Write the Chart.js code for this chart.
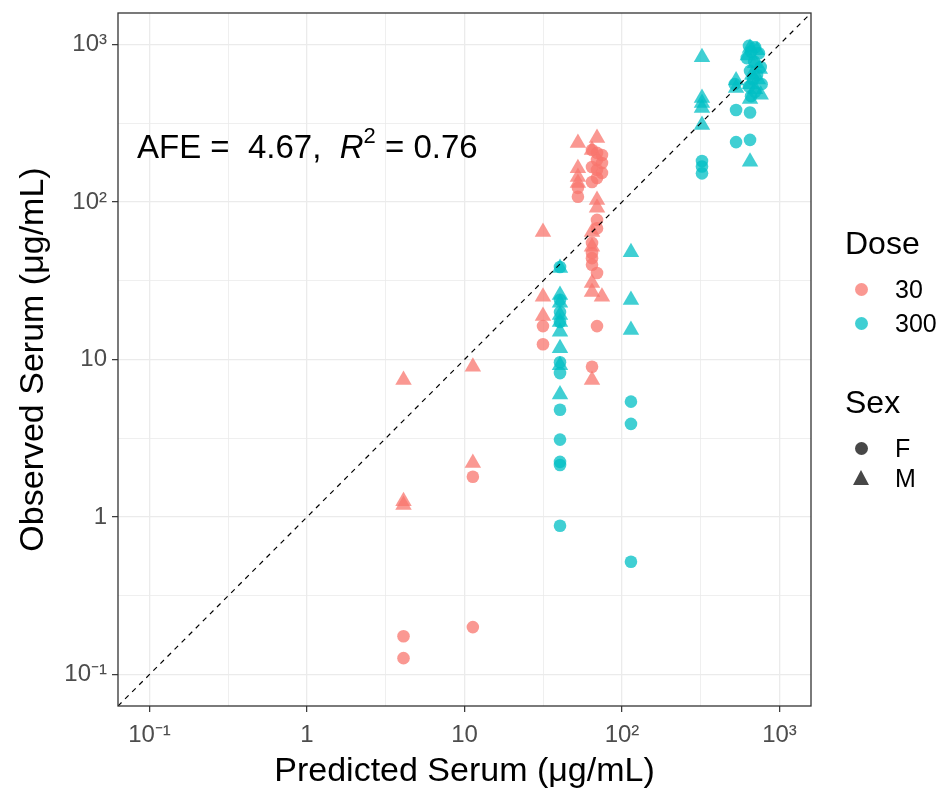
<!DOCTYPE html>
<html>
<head>
<meta charset="utf-8">
<script src="https://cdn.jsdelivr.net/npm/chart.js@4/dist/chart.umd.min.js"></script>
<style>
  body { margin: 0; background: #fff; font-family: "Liberation Sans", Arial, sans-serif; }
  #wrap { position: relative; width: 947px; height: 796px; }
  #afe { position: absolute; left: 137px; top: 130px; font-size: 33px; line-height: 33px; white-space: pre; color: #000; }
  #afe sup { font-size: 22px; position: relative; top: -3px; vertical-align: super; line-height: 0; }
  .lg { position: absolute; color: #000; white-space: nowrap; }
  .lg-title { font-size: 32px; line-height: 32px; left: 845px; }
  .lg-label { font-size: 25px; line-height: 26px; left: 895px; }
  .dot { position: absolute; width: 13px; height: 13px; border-radius: 50%; left: 855px; }
  .tri { position: absolute; width: 0; height: 0; left: 853px; border-left: 8.5px solid transparent; border-right: 8.5px solid transparent; border-bottom: 15px solid rgba(0,0,0,0.72); }
</style>
</head>
<body>
<div id="wrap">
  <canvas id="chart"></canvas>
  <div id="afe">AFE =  4.67,  <i>R</i><sup>2</sup> = 0.76</div>
  <div class="lg lg-title" style="top:227px">Dose</div>
  <div class="dot" style="top:283px;background:rgba(248,118,109,0.75)"></div>
  <div class="lg lg-label" style="top:276px">30</div>
  <div class="dot" style="top:317px;background:rgba(0,191,196,0.75)"></div>
  <div class="lg lg-label" style="top:310px">300</div>
  <div class="lg lg-title" style="top:386px">Sex</div>
  <div class="dot" style="top:442px;background:rgba(0,0,0,0.72)"></div>
  <div class="lg lg-label" style="top:435px">F</div>
  <div class="tri" style="top:470px"></div>
  <div class="lg lg-label" style="top:465px">M</div>
</div>
<script>
// axis range (log10 -1.2 .. 3.2) and ticks
const axisMin = 0.0631;
const axisMax = 1585;
const majorTicks = [0.1, 1, 10, 100, 1000];
const minorTicks = [0.316, 3.16, 31.6, 316];
const tickLabels = ["10\u207B\u00B9", "1", "10", "10\u00B2", "10\u00B3"];

// Dose 30, female
const d30F_pred = [4.1, 4.1, 11.3, 11.3, 31.5, 31.5, 52.5, 52.5, 64.5, 69.4, 74.6, 69.4, 74.6, 64.5, 69.4, 74.6, 69.4, 64.5, 69.4, 69.4, 64.5, 64.5, 64.5, 64.5, 69.4, 69.4, 64.5];
const d30F_obs  = [0.175, 0.127, 1.8, 0.2, 16.3, 12.5, 123, 108, 214, 205, 199, 185, 177, 167, 160, 153, 142, 134, 77, 68, 55, 47.5, 44, 40, 35.4, 16.3, 9.0];

// Dose 30, male
const d30M_pred = [4.1, 4.1, 4.1, 11.3, 11.3, 31.5, 31.5, 31.5, 52.5, 52.5, 52.5, 52.5, 69.4, 64.5, 69.4, 69.4, 64.5, 64.5, 64.5, 64.5, 74.6, 64.5];
const d30M_obs  = [7.4, 1.26, 1.19, 9.0, 2.2, 64.5, 25, 18.9, 237, 164, 144, 132, 255, 214, 103, 92, 64.5, 52, 30.6, 26.8, 25, 7.4];

// Dose 300, female
const d300F_pred = [40.4, 40.4, 40.4, 40.4, 40.4, 40.4, 40.4, 40.4, 40.4, 40.4, 40.4, 114, 114, 114, 322, 322, 322, 530, 530, 650, 650,
  640, 700, 660, 740, 620, 690, 760, 650, 720, 680, 770, 640, 700, 660, 520];
const d300F_obs  = [38.7, 23.9, 20, 17.3, 9.6, 8.2, 4.8, 3.1, 2.24, 2.14, 0.88, 5.4, 3.9, 0.52, 182, 168, 152, 384, 240, 370, 248,
  980, 960, 900, 880, 820, 780, 720, 680, 640, 600, 560, 540, 500, 470, 560];

// Dose 300, male
const d300M_pred = [40.4, 40.4, 40.4, 40.4, 40.4, 40.4, 40.4, 40.4, 40.4, 114, 114, 114, 322, 322, 322, 322, 322, 530, 530,
  650, 720, 630, 700, 750, 670, 730, 650, 700, 760, 650, 650];
const d300M_obs  = [38.1, 25.7, 22.9, 19.2, 17.3, 15, 11.8, 9.2, 6.0, 48, 23.9, 15.4, 830, 457, 425, 395, 308, 590, 530,
  950, 920, 850, 760, 700, 640, 600, 560, 520, 480, 450, 180];

const pink = "rgba(248,118,109,0.75)";
const cyan = "rgba(0,191,196,0.75)";

const toPoints = (xs, ys) => xs.map((x, i) => ({ x, y: ys[i] }));
const isMajor = (v) => majorTicks.some((m) => Math.abs(Math.log10(v) - Math.log10(m)) < 1e-6);
const labelFor = (v) => {
  const i = majorTicks.findIndex((m) => Math.abs(Math.log10(v) - Math.log10(m)) < 1e-6);
  return i >= 0 ? tickLabels[i] : "";
};

const panelBorder = {
  id: "panelBorder",
  afterDraw(chart) {
    const { ctx, chartArea: a } = chart;
    ctx.save();
    ctx.strokeStyle = "#333333";
    ctx.lineWidth = 1.3;
    ctx.strokeRect(a.left, a.top, a.right - a.left, a.bottom - a.top);
    ctx.restore();
  },
};

const axisCommon = (titleText, titlePad, labelPad) => ({
  type: "logarithmic",
  min: axisMin,
  max: axisMax,
  afterBuildTicks: (scale) => {
    scale.ticks = majorTicks.concat(minorTicks).sort((a, b) => a - b).map((v) => ({ value: v, major: isMajor(v) }));
  },
  ticks: {
    autoSkip: false,
    maxRotation: 0,
    color: "#4D4D4D",
    font: { family: "Liberation Sans, Arial, sans-serif", size: 24 },
    padding: labelPad,
    callback: (value) => labelFor(value),
  },
  grid: {
    color: "#EBEBEB",
    lineWidth: (ctx) => (ctx.tick && isMajor(ctx.tick.value) ? 1.3 : 0.8),
    tickColor: (ctx) => (ctx.tick && isMajor(ctx.tick.value) ? "#333333" : "rgba(0,0,0,0)"),
    tickLength: 6,
    tickWidth: 1.2,
  },
  border: { display: false },
  title: {
    display: true,
    text: titleText,
    color: "#000",
    font: { family: "Liberation Sans, Arial, sans-serif", size: 34 },
    padding: titlePad,
  },
});

const xAxis = axisCommon("Predicted Serum (\u03BCg/mL)", { top: 0, bottom: 4 }, 9);
xAxis.afterFit = (scale) => {
  scale.height = 90;
  scale.paddingLeft = 0;
  scale.paddingRight = 0;
};
const yAxis = axisCommon("Observed Serum (\u03BCg/mL)", { top: 13, bottom: 0 }, 5);
yAxis.afterFit = (scale) => {
  scale.width = 118;
  scale.paddingTop = 0;
  scale.paddingBottom = 0;
};

new Chart(document.getElementById("chart"), {
  type: "scatter",
  data: {
    datasets: [
      {
        type: "line",
        data: [{ x: axisMin, y: axisMin }, { x: axisMax, y: axisMax }],
        borderColor: "#000",
        borderWidth: 1.2,
        borderDash: [5, 5],
        pointRadius: 0,
        fill: false,
      },
      { data: toPoints(d30F_pred, d30F_obs), pointStyle: "circle", pointRadius: 6.3, backgroundColor: pink, borderWidth: 0 },
      { data: toPoints(d30M_pred, d30M_obs), pointStyle: "triangle", pointRadius: 9.5, backgroundColor: pink, borderWidth: 0 },
      { data: toPoints(d300F_pred, d300F_obs), pointStyle: "circle", pointRadius: 6.3, backgroundColor: cyan, borderWidth: 0 },
      { data: toPoints(d300M_pred, d300M_obs), pointStyle: "triangle", pointRadius: 9.5, backgroundColor: cyan, borderWidth: 0 },
    ],
  },
  options: {
    responsive: true,
    maintainAspectRatio: false,
    animation: false,
    layout: { padding: { left: 0, top: 13, right: 136, bottom: 0 } },
    plugins: { legend: { display: false }, tooltip: { enabled: false } },
    scales: { x: xAxis, y: yAxis },
  },
  plugins: [panelBorder],
});
</script>
</body>
</html>
